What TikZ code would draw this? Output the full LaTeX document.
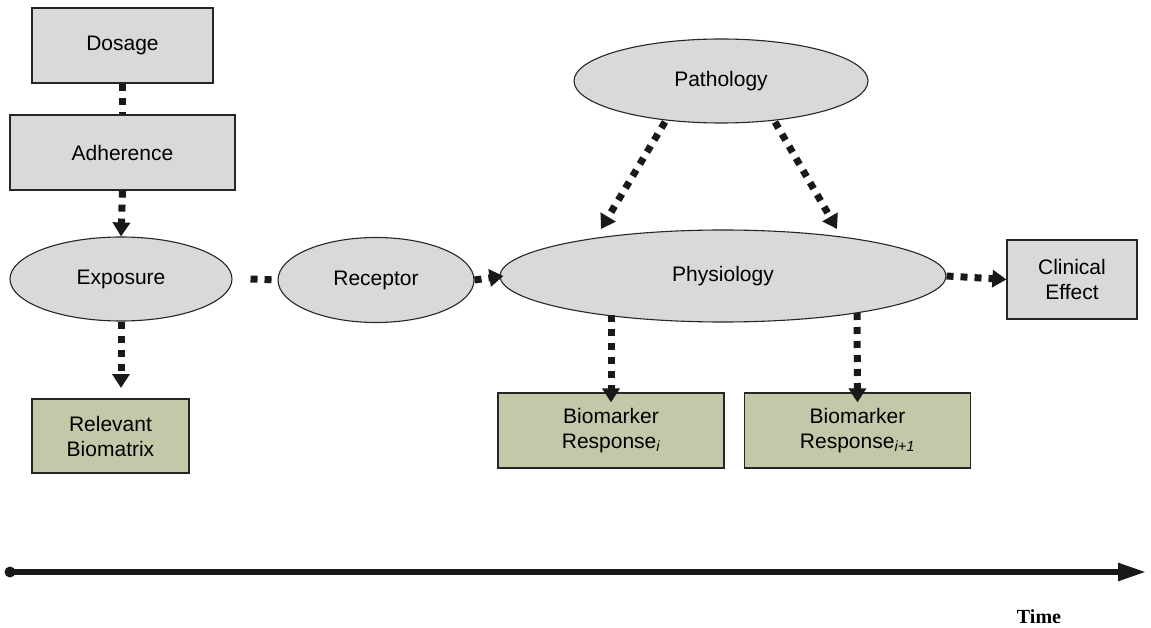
\documentclass[tikz,border=0pt]{standalone}
\usepackage{fontspec}
\setmainfont{Liberation Sans}
\newfontfamily\timesfont{Liberation Serif}
\usetikzlibrary{arrows.meta,shapes.geometric}
\definecolor{boxgray}{HTML}{D9D9DB}
\definecolor{boxgreen}{HTML}{C3C9A8}
\begin{document}
\begin{tikzpicture}[x=1pt,y=-1pt,
  every node/.style={font=\fontsize{21}{25}\selectfont},
  graybox/.style={draw=black!85,line width=1.2pt,fill=boxgray,align=center,inner sep=0pt},
  greenbox/.style={draw=black!85,line width=1.2pt,fill=boxgreen,align=center,inner sep=0pt},
  ell/.style={draw=black!85,line width=1.1pt,fill=boxgray,ellipse,inner sep=0pt},
  dots/.style={line width=7pt,dash pattern=on 7pt off 7pt,color=black!90},
  dotarrow/.style={dots,-{Triangle[width=17pt,length=14pt]}},
]
\useasboundingbox (0,0) rectangle (1151,628);
% nodes
\node[graybox,minimum width=181pt,minimum height=75pt] (dose) at (122.5,45.5) {Dosage};
\node[graybox,minimum width=225pt,minimum height=75pt] (adh) at (122.5,152.5) {Adherence};
\node[ell,minimum width=222pt,minimum height=84pt] (exp) at (121,279) {Exposure};
\node[ell,minimum width=196pt,minimum height=85pt] (rec) at (376,280) {Receptor};
\node[ell,minimum width=446pt,minimum height=92pt] (phys) at (723,276) {Physiology};
\node[ell,minimum width=294pt,minimum height=84pt] (path) at (721,81) {Pathology};
\node[graybox,minimum width=130pt,minimum height=79pt] (clin) at (1072,279.5) {Clinical\\Effect};
\node[greenbox,minimum width=157pt,minimum height=74pt] (bio) at (110.5,436) {Relevant\\Biomatrix};
\node[greenbox,minimum width=226pt,minimum height=75pt] (bm1) at (611,430.5) {Biomarker\\Response\textsubscript{\itshape i}};
\node[greenbox,minimum width=226pt,minimum height=75pt] (bm2) at (857.5,430.5) {Biomarker\\Response\textsubscript{\itshape i+1}};
% connectors
\draw[dots] (dose.south) -- (adh.north);
\draw[dotarrow] (adh.south) -- (exp.north);
\coordinate (e1) at (121,388);
\draw[dotarrow] (exp.south) -- (e1);
\draw[dots] ([xshift=18pt]exp.east) -- (rec.west);
\draw[dotarrow] (rec.east) -- ([xshift=4pt]phys.west);
\draw[dotarrow] (phys.east) -- (clin.west);
\coordinate (p1s) at (665,122);
\coordinate (p1e) at (601,229);
\coordinate (p2s) at (775,122);
\coordinate (p2e) at (837,229);
\draw[dotarrow] (p1s) -- (p1e);
\draw[dotarrow] (p2s) -- (p2e);
\coordinate (b1s) at (611,315);
\coordinate (b2s) at (857,313);
\draw[dotarrow] (b1s) -- ([yshift=-10pt]bm1.north);
\draw[dotarrow] (b2s) -- ([yshift=-10pt]bm2.north);
% timeline
\coordinate (t0) at (10,572);
\coordinate (t1) at (1146,572);
\fill[black!90] (t0) circle (5.5pt);
\draw[line width=5.5pt,black!90,-{Triangle[width=17pt,length=28pt]}] (t0) -- (t1);
\node[font=\timesfont\bfseries\fontsize{20}{24}\selectfont,anchor=base] (time) at (1039,623) {Time};
\end{tikzpicture}
\end{document}
